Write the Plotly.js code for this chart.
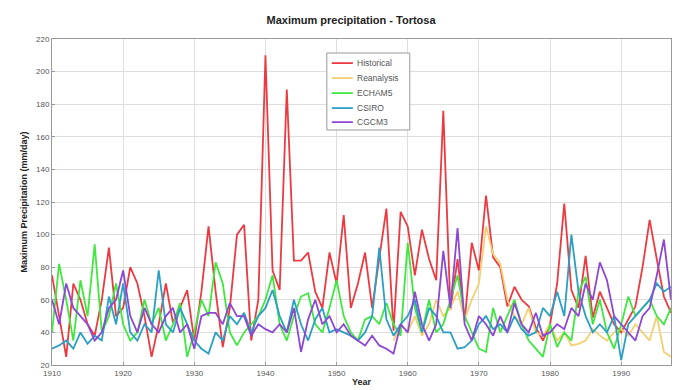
<!DOCTYPE html>
<html>
<head>
<meta charset="utf-8">
<script src="https://cdn.plot.ly/plotly-3.0.1.min.js"></script>
<style>html,body{margin:0;padding:0;background:#fff;}#chart{width:679px;height:390px;}</style>
</head>
<body>
<div id="chart"></div>
<script>
const years = [];
for (let y = 1910; y <= 1997; y++) years.push(y);

const historical = [
  75, 50, 25, 70, 60, 45, 38, 60, 92, 50,
  55, 80, 70, 50, 25, 45, 70, 46, 55, 66,
  35, 65, 105, 65, 31, 55, 100, 106, 35, 60,
  210, 78, 66, 189, 84, 84, 89, 65, 55, 89,
  70, 112, 55, 70, 89, 55, 85, 116, 41, 114,
  105, 75, 103, 85, 72, 176, 54, 85, 47, 95,
  78, 124, 86, 80, 56, 68, 60, 56, 43, 35,
  45, 70, 119, 66, 55, 87, 49, 65, 55, 45,
  40, 48, 56, 80, 109, 85, 62, 52
];
const reanalysis = [
  null, null, null, null, null, null, null, null, null, null,
  null, null, null, null, null, null, null, null, null, null,
  null, null, null, null, null, null, null, null, null, null,
  null, null, null, null, null, null, null, null, null, null,
  null, null, null, null, null, null, null, null, 35, 45,
  40, 50, 38, 45, 60, 50, 55, 65, 48, 60,
  70, 105, 88, 82, 60, 50, 45, 55, 40, 38,
  45, 35, 40, 32, 33, 35, 42, 38, 35, 40,
  42, 38, 45, 40, 35, 50, 28, 25
];
const echam5 = [
  40, 82, 60, 35, 72, 50, 94, 40, 50, 70,
  45, 35, 40, 60, 45, 55, 35, 45, 58, 25,
  40, 60, 50, 83, 70, 40, 32, 40, 45, 50,
  60, 75, 45, 35, 50, 62, 64, 45, 40, 55,
  72, 50, 40, 35, 48, 50, 45, 58, 45, 38,
  95, 55, 40, 60, 40, 45, 60, 75, 50, 40,
  30, 28, 55, 40, 50, 60, 45, 35, 30, 25,
  45, 31, 40, 35, 65, 74, 45, 60, 40, 30,
  45, 62, 50, 55, 60, 50, 45, 55
];
const csiro = [
  30, 32, 35, 30, 40, 33, 38, 35, 62, 45,
  70, 40, 35, 45, 40, 78, 45, 40, 55, 45,
  35, 30, 27, 40, 35, 50, 45, 52, 40, 50,
  55, 66, 50, 40, 60, 45, 35, 48, 55, 40,
  42, 40, 38, 35, 40, 50, 92, 48, 38, 45,
  50, 60, 40, 55, 50, 40, 40, 30, 31, 35,
  45, 50, 42, 45, 40, 50, 42, 38, 40, 55,
  50, 65, 50, 100, 65, 50, 40, 45, 40, 50,
  23, 45, 50, 55, 60, 70, 65, 68
];
const cgcm3 = [
  60, 45, 70, 55, 50, 45, 35, 40, 55, 60,
  78, 50, 40, 55, 45, 40, 50, 55, 40, 45,
  30, 50, 52, 52, 45, 58, 50, 50, 38, 45,
  42, 40, 45, 40, 55, 28, 48, 60, 45, 50,
  40, 45, 38, 35, 32, 38, 32, 30, 27, 45,
  40, 65, 45, 35, 45, 90, 55, 104, 45, 35,
  50, 45, 38, 50, 40, 58, 45, 40, 52, 38,
  40, 45, 42, 55, 50, 70, 60, 83, 72, 50,
  45, 40, 35, 50, 55, 75, 97, 60
];

const seriesNames = ["Historical", "Reanalysis", "ECHAM5", "CSIRO", "CGCM3"];
const seriesData = [historical, reanalysis, echam5, csiro, cgcm3];
const seriesColors = ["#ec3a40", "#f4cf72", "#3fe83f", "#2b9fc6", "#8e47d4"];

const traces = seriesNames.map((n, i) => ({
  x: years, y: seriesData[i], name: n, type: "scatter", mode: "lines",
  line: {color: seriesColors[i], width: 1.8}, connectgaps: false, showlegend: false
}));

// custom compact legend (paper coordinates)
const legBox = {x0: 0.444, x1: 0.578, y0: 0.721, y1: 0.957};
const legRowsY = [0.926, 0.880, 0.834, 0.788, 0.745];
const shapes = [{
  type: "rect", xref: "paper", yref: "paper",
  x0: legBox.x0, x1: legBox.x1, y0: legBox.y0, y1: legBox.y1,
  line: {color: "#999", width: 1}, fillcolor: "#fff", layer: "above"
}];
const annotations = [];
seriesNames.forEach((n, i) => {
  shapes.push({type: "line", xref: "paper", yref: "paper",
    x0: 0.452, x1: 0.486, y0: legRowsY[i], y1: legRowsY[i],
    line: {color: seriesColors[i], width: 1.8}, layer: "above"});
  annotations.push({xref: "paper", yref: "paper", x: 0.49, y: legRowsY[i],
    xanchor: "left", yanchor: "middle", text: n, showarrow: false,
    font: {size: 8.5, color: "#555"}});
});

const layout = {
  width: 679, height: 390,
  margin: {l: 52, r: 8, t: 39, b: 25},
  paper_bgcolor: "#fff", plot_bgcolor: "#fff",
  font: {family: "Arial, Liberation Sans, sans-serif", color: "#333", size: 8},
  title: {text: "<b>Maximum precipitation - Tortosa</b>", x: 0.517, xanchor: "center", y: 0.948, yanchor: "middle",
          font: {size: 11, color: "#222"}},
  xaxis: {
    range: [1910, 1997], dtick: 10, tick0: 1910,
    showgrid: true, gridcolor: "#dedede", gridwidth: 1,
    showline: true, linecolor: "#999", mirror: true, ticks: "inside", ticklen: 3, tickcolor: "#999",
    zeroline: false, tickfont: {size: 8, color: "#555"},
    title: {text: "<b>Year</b>", font: {size: 9, color: "#222"}, standoff: 2}
  },
  yaxis: {
    range: [20, 220], dtick: 20, tick0: 20,
    showgrid: true, gridcolor: "#dedede", gridwidth: 1,
    showline: true, linecolor: "#999", mirror: true, ticks: "inside", ticklen: 3, tickcolor: "#999",
    zeroline: false, tickfont: {size: 8, color: "#555"},
    title: {text: "<b>Maximum Precipitation (mm/day)</b>", font: {size: 9, color: "#222"}, standoff: 6}
  },
  shapes: shapes,
  annotations: annotations,
  showlegend: false
};

Plotly.newPlot("chart", traces, layout, {staticPlot: true, displayModeBar: false});
</script>
</body>
</html>
